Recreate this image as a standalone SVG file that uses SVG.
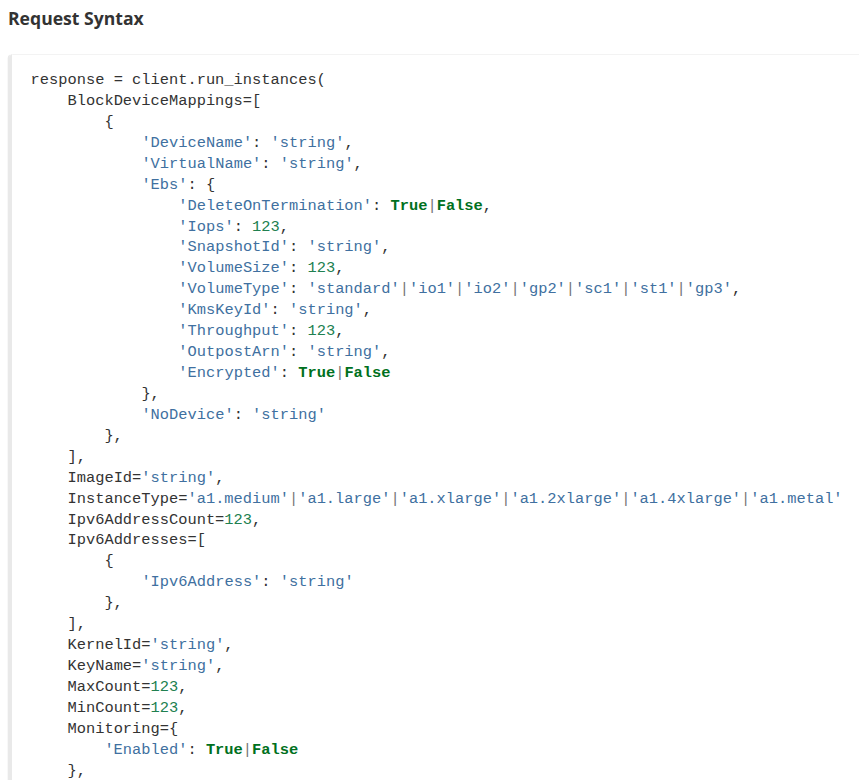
<svg xmlns="http://www.w3.org/2000/svg" width="859" height="780" viewBox="0 0 859 780">
<style>
.title{font-family:"Open Sans","Liberation Sans",sans-serif;font-weight:bold;font-size:17.6px;fill:#333333}
.code{font-family:"Liberation Mono","DejaVu Sans Mono",monospace;font-size:15.38px;fill:#333333}
.s{fill:#4070a0}
.n{fill:#208050}
.k{fill:#007020;font-weight:bold}
.o{fill:#777777}
</style>
<rect x="0" y="0" width="859" height="780" fill="#ffffff"/>
<g id="title"><text class="title" x="8" y="25">Request Syntax</text></g>
<g id="codeblock">
<rect x="8.5" y="54.5" width="900" height="800" rx="4" fill="#ffffff" stroke="#f3f3f3"/>
<path d="M9.7 58 Q9.7 55 12 54.6 L12 780 L7.7 780 L7.7 58 Q7.7 55.5 9.7 54.5 Z" fill="#e9e9e9"/>
</g>
<g id="code" class="code" xml:space="preserve">
<text x="30.6" y="84">response = client.run_instances(</text>
<text x="67.5" y="104.93">BlockDeviceMappings=[</text>
<text x="104.4" y="125.86">{</text>
<text x="141.4" y="146.79"><tspan class="s">'DeviceName'</tspan>: <tspan class="s">'string'</tspan>,</text>
<text x="141.4" y="167.72"><tspan class="s">'VirtualName'</tspan>: <tspan class="s">'string'</tspan>,</text>
<text x="141.4" y="188.65"><tspan class="s">'Ebs'</tspan>: {</text>
<text x="178.3" y="209.58"><tspan class="s">'DeleteOnTermination'</tspan>: <tspan class="k">True</tspan><tspan class="o">|</tspan><tspan class="k">False</tspan>,</text>
<text x="178.3" y="230.51"><tspan class="s">'Iops'</tspan>: <tspan class="n">123</tspan>,</text>
<text x="178.3" y="251.44"><tspan class="s">'SnapshotId'</tspan>: <tspan class="s">'string'</tspan>,</text>
<text x="178.3" y="272.37"><tspan class="s">'VolumeSize'</tspan>: <tspan class="n">123</tspan>,</text>
<text x="178.3" y="293.3"><tspan class="s">'VolumeType'</tspan>: <tspan class="s">'standard'</tspan><tspan class="o">|</tspan><tspan class="s">'io1'</tspan><tspan class="o">|</tspan><tspan class="s">'io2'</tspan><tspan class="o">|</tspan><tspan class="s">'gp2'</tspan><tspan class="o">|</tspan><tspan class="s">'sc1'</tspan><tspan class="o">|</tspan><tspan class="s">'st1'</tspan><tspan class="o">|</tspan><tspan class="s">'gp3'</tspan>,</text>
<text x="178.3" y="314.23"><tspan class="s">'KmsKeyId'</tspan>: <tspan class="s">'string'</tspan>,</text>
<text x="178.3" y="335.16"><tspan class="s">'Throughput'</tspan>: <tspan class="n">123</tspan>,</text>
<text x="178.3" y="356.09"><tspan class="s">'OutpostArn'</tspan>: <tspan class="s">'string'</tspan>,</text>
<text x="178.3" y="377.02"><tspan class="s">'Encrypted'</tspan>: <tspan class="k">True</tspan><tspan class="o">|</tspan><tspan class="k">False</tspan></text>
<text x="141.4" y="397.95">},</text>
<text x="141.4" y="418.88"><tspan class="s">'NoDevice'</tspan>: <tspan class="s">'string'</tspan></text>
<text x="104.4" y="439.81">},</text>
<text x="67.5" y="460.74">],</text>
<text x="67.5" y="481.67">ImageId=<tspan class="s">'string'</tspan>,</text>
<text x="67.5" y="502.6">InstanceType=<tspan class="s">'a1.medium'</tspan><tspan class="o">|</tspan><tspan class="s">'a1.large'</tspan><tspan class="o">|</tspan><tspan class="s">'a1.xlarge'</tspan><tspan class="o">|</tspan><tspan class="s">'a1.2xlarge'</tspan><tspan class="o">|</tspan><tspan class="s">'a1.4xlarge'</tspan><tspan class="o">|</tspan><tspan class="s">'a1.metal'</tspan></text>
<text x="67.5" y="523.53">Ipv6AddressCount=<tspan class="n">123</tspan>,</text>
<text x="67.5" y="544.46">Ipv6Addresses=[</text>
<text x="104.4" y="565.39">{</text>
<text x="141.4" y="586.32"><tspan class="s">'Ipv6Address'</tspan>: <tspan class="s">'string'</tspan></text>
<text x="104.4" y="607.25">},</text>
<text x="67.5" y="628.18">],</text>
<text x="67.5" y="649.11">KernelId=<tspan class="s">'string'</tspan>,</text>
<text x="67.5" y="670.04">KeyName=<tspan class="s">'string'</tspan>,</text>
<text x="67.5" y="690.97">MaxCount=<tspan class="n">123</tspan>,</text>
<text x="67.5" y="711.9">MinCount=<tspan class="n">123</tspan>,</text>
<text x="67.5" y="732.83">Monitoring={</text>
<text x="104.4" y="753.76"><tspan class="s">'Enabled'</tspan>: <tspan class="k">True</tspan><tspan class="o">|</tspan><tspan class="k">False</tspan></text>
<text x="67.5" y="774.69">},</text>
</g>
</svg>
